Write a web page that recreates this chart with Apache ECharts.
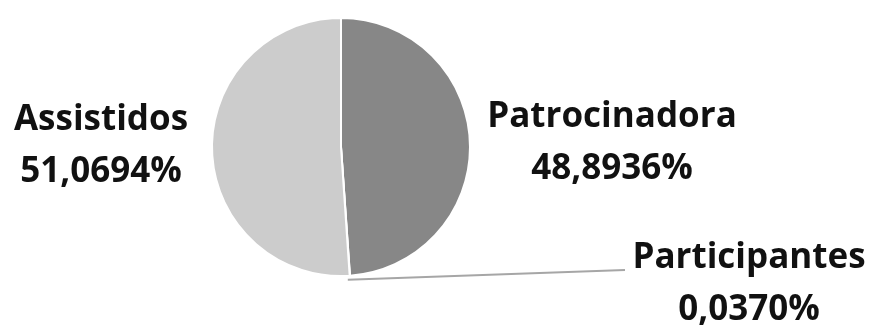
<!DOCTYPE html>
<html>
<head>
<meta charset="utf-8">
<script src="https://cdn.jsdelivr.net/npm/echarts@6/dist/echarts.min.js"></script>
<style>
html, body { margin:0; padding:0; background:#fff; }
#view1 { width:873px; height:329px; }
</style>
</head>
<body>
<div id="view1"></div>
<script>
"use strict";
var names = ['Patrocinadora', 'Participantes', 'Assistidos'];
var values = [48.8936, 0.0370, 51.0694];
var labels = ['48,8936%', '0,0370%', '51,0694%'];
var colors = ['#878787', '#b0b0b0', '#cccccc'];
// label box centres (x, y)
var labelPos = [[612, 143], [749, 284], [101, 146]];
var leaderEnd = [625, 270];

var data = names.map(function(n, i){
	return {
		name: n, value: values[i], itemStyle: { color: colors[i] },
		label: { formatter: n + '\n' + labels[i] },
		labelLine: { show: i == 1 }
	};
});

var option = {
	animation: false,
	series: [{
		type: 'pie', center: [341, 147], radius: [0, 129],
		startAngle: 90, clockwise: true,
		itemStyle: { borderColor: '#fff', borderWidth: 2 },
		label: {
			show: true, position: 'outside', color: '#111',
			fontFamily: 'Open Sans', fontWeight: 'bold', fontSize: 35, lineHeight: 52, align: 'center'
		},
		labelLine: { show: false, length: 5, length2: 5, lineStyle: { color: '#a6a6a6', width: 2 } },
		labelLayout: function(p){
			var c = labelPos[p.dataIndex];
			var res = { x: c[0], y: c[1], align: 'center', verticalAlign: 'middle' };
			if (p.dataIndex == 1 && p.labelLinePoints) {
				var s = p.labelLinePoints[0];
				res.labelLinePoints = [[s[0] - 2, s[1] + 4], leaderEnd, leaderEnd];
			}
			return res;
		},
		data: data
	}]
};
var myChart = echarts.init(document.getElementById('view1'));
myChart.setOption(option);
</script>
</body>
</html>
